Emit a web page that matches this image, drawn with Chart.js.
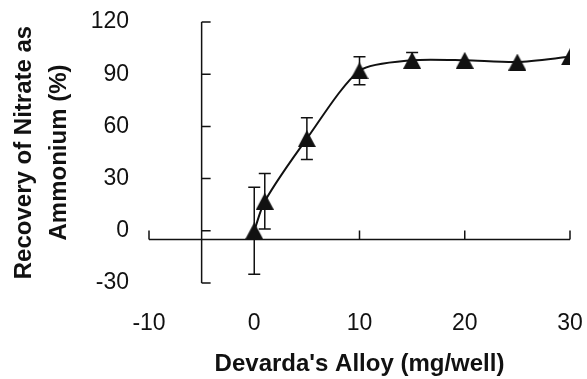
<!DOCTYPE html>
<html>
<head>
<meta charset="utf-8">
<script src="https://cdn.jsdelivr.net/npm/chart.js@4/dist/chart.umd.min.js"></script>
<style>
    html, body { margin: 0; padding: 0; background: #fff; }
    #wrap { width: 587px; height: 379px; }
</style>
</head>
<body>
<div id="wrap"><canvas id="recoveryChart" width="587" height="379"></canvas></div>
<script>
// values
const alloyDose = [0, 1, 5, 10, 15, 20, 25, 30];          // mg/well
const recovery = [0, 17, 53, 92, 98, 98, 97, 100];        // %
const recoveryErr = [25, 16, 12, 8, 4.5, 0, 0, 0];        // +/- error (0 = hidden by marker)
const xTickValues = [-10, 0, 10, 20, 30];
const yTickValues = [-30, 0, 30, 60, 90, 120];
const axisCross = -5;   // both axes cross at -5

document.addEventListener("DOMContentLoaded", function () {
    const ink = '#111';
    const fontFamily = '"Liberation Sans", Arial, Helvetica, sans-serif';

    // triangle marker, centred on its box like the original
    const tri = document.createElement('canvas');
    tri.width = 18;
    tri.height = 17;
    const tctx = tri.getContext('2d');
    tctx.fillStyle = ink;
    tctx.beginPath();
    tctx.moveTo(9, 0);
    tctx.lineTo(18, 17);
    tctx.lineTo(0, 17);
    tctx.closePath();
    tctx.fill();

    // axis lines crossing at -5 with inward tick marks
    const crossAxes = {
        id: 'crossAxes',
        beforeDatasetsDraw(chart) {
            const c = chart.ctx;
            const xs = chart.scales.x, ys = chart.scales.y;
            const ax = xs.getPixelForValue(axisCross);
            const ay = ys.getPixelForValue(axisCross);
            c.save();
            c.strokeStyle = ink;
            c.lineWidth = 1.5;
            c.beginPath();
            c.moveTo(ax, ys.getPixelForValue(yTickValues[0]));
            c.lineTo(ax, ys.getPixelForValue(yTickValues[yTickValues.length - 1]));
            yTickValues.forEach(v => {
                const py = ys.getPixelForValue(v);
                c.moveTo(ax, py);
                c.lineTo(ax + 9, py);
            });
            c.moveTo(xs.getPixelForValue(xTickValues[0]), ay);
            c.lineTo(xs.getPixelForValue(xTickValues[xTickValues.length - 1]), ay);
            xTickValues.forEach(v => {
                const px = xs.getPixelForValue(v);
                c.moveTo(px, ay);
                c.lineTo(px, ay - 9);
            });
            c.stroke();

            // error bars
            c.beginPath();
            alloyDose.forEach((d, i) => {
                if (!recoveryErr[i]) return;
                const px = xs.getPixelForValue(d);
                const top = ys.getPixelForValue(recovery[i] + recoveryErr[i]);
                const bot = ys.getPixelForValue(recovery[i] - recoveryErr[i]);
                c.moveTo(px, top);
                c.lineTo(px, bot);
                c.moveTo(px - 6, top);
                c.lineTo(px + 6, top);
                c.moveTo(px - 6, bot);
                c.lineTo(px + 6, bot);
            });
            c.stroke();
            c.restore();
        }
    };

    const ctx = document.getElementById('recoveryChart').getContext('2d');

    const chart = new Chart(ctx, {
        type: 'line',
        data: {
            datasets: [{
                data: alloyDose.map((d, i) => ({ x: d, y: recovery[i] })),
                borderColor: ink,
                borderWidth: 2,
                tension: 0.25,
                pointStyle: tri,
                pointRadius: 9,
                pointHoverRadius: 9
            }]
        },
        options: {
            responsive: false,
            animation: false,
            events: [],
            layout: { padding: { top: 22, right: 17, left: 0, bottom: 0 } },
            plugins: {
                legend: { display: false },
                tooltip: { enabled: false }
            },
            scales: {
                x: {
                    type: 'linear',
                    min: -10,
                    max: 30,
                    afterBuildTicks: s => { s.ticks = xTickValues.map(v => ({ value: v })); },
                    afterFit: s => {
                        s.height = 96;
                        s.paddingLeft = 0;
                        s.paddingRight = 0;
                    },
                    grid: { display: false, drawTicks: false },
                    border: { display: false },
                    ticks: {
                        color: ink,
                        padding: 27,
                        maxRotation: 0,
                        font: { family: fontFamily, size: 23 }
                    },
                    title: {
                        display: true,
                        text: "Devarda's Alloy (mg/well)",
                        color: ink,
                        padding: { top: 0, bottom: 0 },
                        font: { family: fontFamily, size: 24, weight: 'bold', lineHeight: 1.2 }
                    }
                },
                y: {
                    min: -30,
                    max: 120,
                    afterBuildTicks: s => { s.ticks = yTickValues.map(v => ({ value: v })); },
                    afterFit: s => {
                        s.width = 149;
                        s.paddingTop = 0;
                        s.paddingBottom = 0;
                    },
                    grid: { display: false, drawTicks: false },
                    border: { display: false },
                    ticks: {
                        color: ink,
                        padding: 20,
                        font: { family: fontFamily, size: 23 }
                    },
                    title: {
                        display: true,
                        text: ['Recovery of Nitrate as', 'Ammonium (%)'],
                        color: ink,
                        padding: { top: 7, bottom: 0 },
                        font: { family: fontFamily, size: 24, weight: 'bold', lineHeight: 1.46 }
                    }
                }
            }
        },
        plugins: [crossAxes]
    });
});
</script>
</body>
</html>
